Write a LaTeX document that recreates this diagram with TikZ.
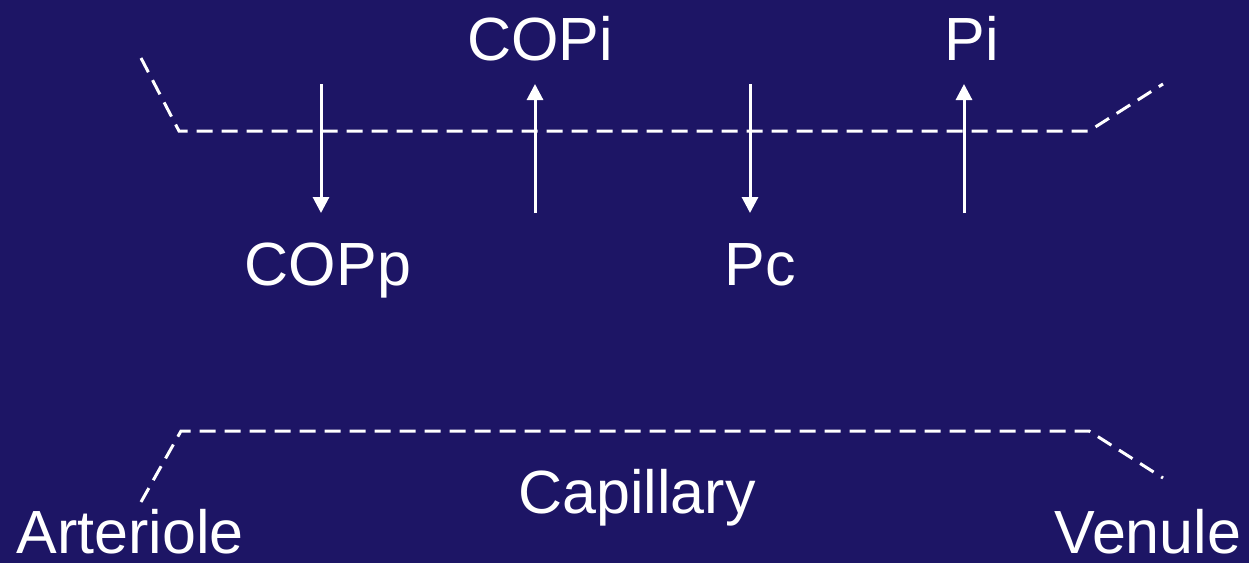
\documentclass[tikz,border=0pt]{standalone}
\usepackage{fontspec}
\setmainfont{Liberation Sans}
\usetikzlibrary{arrows.meta}
\definecolor{bgnavy}{RGB}{29,21,101}
\begin{document}
\begin{tikzpicture}[x=1pt,y=-1pt,
  wall/.style={draw=white,line width=3pt,dash pattern=on 16pt off 9pt},
  flow/.style={draw=white,line width=3pt,-{Triangle[length=16pt,width=16pt]}},
  lbl/.style={text=white,font=\fontsize{61}{70}\selectfont,anchor=base,inner sep=0pt}]
\fill[bgnavy] (0,0) rectangle (1249,563);
\useasboundingbox (0,0) rectangle (1249,563);
% walls
\coordinate (t1) at (141,58);
\coordinate (t2) at (179,131);
\coordinate (t3) at (1089,131);
\coordinate (t4) at (1163,84);
\coordinate (b1) at (141,502);
\coordinate (b2) at (181,431);
\coordinate (b3) at (1089,431);
\coordinate (b4) at (1163,478);
\draw[wall] (t1) -- (t2) -- (t3) -- (t4);
\draw[wall] (b1) -- (b2) -- (b3) -- (b4);
% arrows
\coordinate (a1s) at (321,84);  \coordinate (a1e) at (321,213);
\coordinate (a2s) at (535,213); \coordinate (a2e) at (535,84);
\coordinate (a3s) at (750,84);  \coordinate (a3e) at (750,213);
\coordinate (a4s) at (964,213); \coordinate (a4e) at (964,84);
\draw[flow] (a1s) -- (a1e);
\draw[flow] (a2s) -- (a2e);
\draw[flow] (a3s) -- (a3e);
\draw[flow] (a4s) -- (a4e);
% labels
\node[lbl] (copi) at (540,60) {COPi};
\node[lbl] (pi) at (972,60) {Pi};
\node[lbl] (copp) at (328,285) {COPp};
\node[lbl] (pc) at (760,285) {Pc};
\node[lbl] (cap) at (637,513) {Capillary};
\node[lbl] (art) at (130,553) {Arteriole};
\node[lbl] (ven) at (1148,553) {Venule};
\end{tikzpicture}
\end{document}
